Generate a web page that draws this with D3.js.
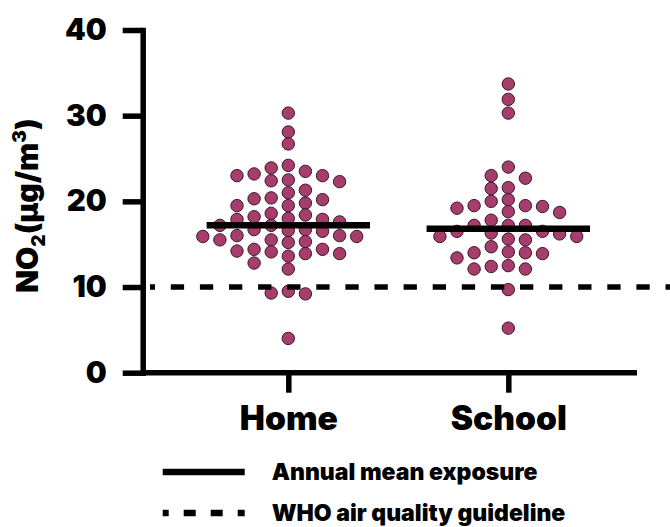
<!DOCTYPE html>
<html>
<head>
<meta charset="utf-8">
<script src="https://cdn.jsdelivr.net/npm/d3@7"></script>
<style>
  html, body { margin: 0; padding: 0; background: #ffffff; }
  svg { display: block; }
  text { font-family: Inter, Lato, "Open Sans", "DejaVu Sans", sans-serif; font-weight: 900; fill: #000; }
</style>
</head>
<body>
<svg id="chart" width="670" height="527"></svg>
<script>
// ---------------- data ----------------
const categories = ["Home", "School"];
const homeValues = [
  30.3, 28.1, 26.7, 24.2, 23.9, 23.5, 23.2, 23.0, 23.0, 22.5, 22.4, 22.3,
  21.3, 21.0, 20.4, 20.3, 20.2, 19.8, 19.5, 19.5, 18.6, 18.4, 18.2, 18.0,
  17.9, 17.9, 17.6, 17.2, 17.2, 16.7, 16.7, 16.6, 16.5, 16.0, 16.0, 15.9,
  15.9, 15.5, 15.5, 15.3, 15.2, 14.4, 14.4, 14.2, 14.1, 13.9, 13.9, 13.6,
  12.8, 12.1, 9.5, 9.3, 9.2, 4.0
];
const schoolValues = [
  33.7, 31.9, 30.3, 24.0, 23.0, 22.7, 21.6, 21.5, 20.2, 20.0, 19.5, 19.5,
  19.4, 19.2, 18.8, 18.7, 17.8, 17.2, 17.2, 17.2, 16.5, 16.5, 16.3, 16.2,
  15.9, 15.9, 15.6, 15.5, 14.7, 14.1, 14.0, 14.0, 13.9, 13.4, 12.5, 12.4,
  12.1, 12.1, 9.7, 5.2
];
const meanValues = [17.2, 16.8];
const guidelineValue = [10];
const yTicks = [0, 10, 20, 30, 40];
const legendLabels = ["Annual mean exposure", "WHO air quality guideline"];

// ---------------- layout ----------------
const svg = d3.select("#chart");
const dotColor = "#a63d6c", dotStroke = "#3a1828";
const y = d3.scaleLinear().domain([0, 40]).range([372.7, 30]);
const x = d3.scalePoint().domain(categories).range([288.3, 508.3]);
const axisLeftX = 142.7, axisRightX = 637;
const lw = 5.5;
const slotW = 17.1, dotR = 6.2, minDist = 11.3, meanHalf = 81.7;

// beeswarm: greedy slot assignment
function swarm(values, cat) {
  const cx = x(cat);
  const pts = values.map(v => ({ v })).sort((a, b) => b.v - a.v);
  const order = [0];
  for (let k = 1; k <= 12; k++) order.push(-k, k);
  const cols = new Map();
  pts.forEach(p => {
    const py = y(p.v);
    for (const s of order) {
      const arr = cols.get(s) || [];
      if (arr.every(q => Math.abs(q - py) >= minDist)) {
        arr.push(py); cols.set(s, arr); p.slot = s; break;
      }
    }
    p.cx = cx + p.slot * slotW;
    p.cy = py;
  });
  return pts;
}

const allPts = swarm(homeValues, "Home").concat(swarm(schoolValues, "School"));

// dots
svg.append("g").selectAll("circle").data(allPts).join("circle")
  .attr("cx", d => d.cx).attr("cy", d => d.cy).attr("r", dotR)
  .attr("fill", dotColor).attr("stroke", dotStroke).attr("stroke-width", 1);

// y axis
const yAxis = svg.append("g").attr("transform", `translate(${axisLeftX},0)`)
  .call(d3.axisLeft(y).tickValues(yTicks).tickSize(20).tickSizeOuter(0).tickPadding(16));
yAxis.select(".domain").attr("stroke", "#000").attr("stroke-width", lw).attr("stroke-linecap", "square");
yAxis.selectAll(".tick line").attr("stroke", "#000").attr("stroke-width", lw);
yAxis.selectAll(".tick text").attr("font-size", 29.5).attr("font-family", null).attr("fill", "#000");

// x axis
const xAxis = svg.append("g").attr("transform", `translate(0,${y(0)})`)
  .call(d3.axisBottom(x).tickSize(20).tickSizeOuter(0).tickPadding(14));
xAxis.select(".domain").remove();
xAxis.insert("line", ":first-child").attr("x1", axisLeftX).attr("x2", axisRightX)
  .attr("stroke", "#000").attr("stroke-width", lw);
xAxis.selectAll(".tick line").attr("stroke", "#000").attr("stroke-width", lw);
xAxis.selectAll(".tick text").attr("font-size", 33.5).attr("font-family", null).attr("fill", "#000");

// guideline (dashed)
svg.append("g").selectAll("line").data(guidelineValue).join("line")
  .attr("x1", 150).attr("x2", 670).attr("y1", d => y(d)).attr("y2", d => y(d))
  .attr("stroke", "#000").attr("stroke-width", lw)
  .attr("stroke-dasharray", "13.3,15.8").attr("stroke-dashoffset", 8.3);

// mean lines
svg.append("g").selectAll("line").data(meanValues).join("line")
  .attr("x1", (d, i) => x(categories[i]) - meanHalf)
  .attr("x2", (d, i) => x(categories[i]) + meanHalf)
  .attr("y1", d => y(d)).attr("y2", d => y(d))
  .attr("stroke", "#000").attr("stroke-width", 6.5);

// y title
const yt = svg.append("text")
  .attr("transform", "translate(38,293) rotate(-90)")
  .attr("text-anchor", "start").attr("font-size", 30);
yt.append("tspan").text("NO");
yt.append("tspan").attr("font-size", 19).attr("dy", 7).text("2");
yt.append("tspan").attr("dy", -7).text("(µg/m");
yt.append("tspan").attr("font-size", 19).attr("dy", -12).text("3");
yt.append("tspan").attr("dy", 12).text(")");

// legend
const leg = svg.append("g");
const legRows = leg.selectAll("g").data(legendLabels).join("g")
  .attr("transform", (d, i) => `translate(0,${472 + i * 41})`);
legRows.append("line").attr("x1", 162.7).attr("x2", 244.7).attr("y1", 0).attr("y2", 0)
  .attr("stroke", "#000").attr("stroke-width", 6.5)
  .attr("stroke-dasharray", (d, i) => i === 0 ? null : "12,15")
  .attr("stroke-dashoffset", (d, i) => i === 0 ? null : 6);
legRows.append("text").attr("x", 271.7).attr("y", 0).attr("dy", "0.36em")
  .attr("font-size", 23).text(d => d);
</script>
</body>
</html>
